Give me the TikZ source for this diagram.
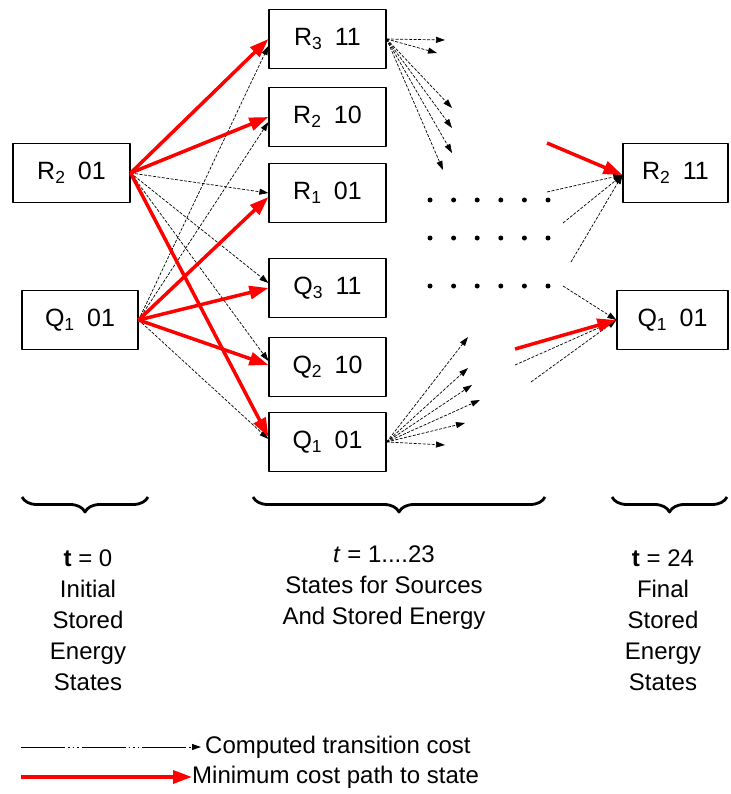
\documentclass[tikz,border=0pt]{standalone}
\usepackage{fontspec}
\setmainfont{Liberation Sans}
\usetikzlibrary{arrows.meta,decorations.pathreplacing}
\newcommand{\statelab}[3]{#1\textsubscript{#2}\hspace{0.5em}#3}

\begin{document}
\begin{tikzpicture}[x=1pt, y=-1pt, font=\fontsize{24}{31}\selectfont, line join=round,
    main/.style = {draw, rectangle, minimum width=117pt, minimum height=59pt, inner sep=0pt, line width=1.2pt, font=\fontsize{25}{30}\selectfont},
    txt/.style = {align=center, inner sep=0pt},
    cost/.style = {-{Triangle[length=9pt, width=6pt]}, line width=0.7pt, dash pattern=on 3pt off 1.5pt},
    best/.style = {-{Triangle[length=19pt, width=13pt]}, line width=3.5pt, red},
    dots/.style = {line width=5pt, line cap=round, dash pattern=on 0pt off 23.6pt},
    curly/.style = {decorate, decoration={brace, mirror, amplitude=15pt}, line width=2.8pt}]
    \useasboundingbox (0,0) rectangle (730,794);
    % states at t = 0
    \node[main] (i0) at (71.5,173) {\statelab{R}{2}{01}};
    \node[main, minimum width=116pt] (i1) at (80,320) {\statelab{Q}{1}{01}};
    % states at t = 1...23
    \node[main] (d0) at (327.5,39) {\statelab{R}{3}{11}};
    \node[main] (d1) at (327.5,117) {\statelab{R}{2}{10}};
    \node[main] (d2) at (327.5,193) {\statelab{R}{1}{01}};
    \node[main] (d3) at (327.5,288) {\statelab{Q}{3}{11}};
    \node[main] (d4) at (327.5,367) {\statelab{Q}{2}{10}};
    \node[main] (d5) at (327.5,442) {\statelab{Q}{1}{01}};
    % states at t = 24
    \node[main, minimum width=105pt] (o0) at (675.5,173) {\statelab{R}{2}{11}};
    \node[main, minimum width=111pt] (o1) at (672.5,320) {\statelab{Q}{1}{01}};
    % transitions t = 0 -> t = 1
    \draw[cost] (i0.east) -- (d2.west);
    \draw[cost] (i0.east) -- ([yshift=5pt]d3.west);
    \draw[cost] (i0.east) -- ([yshift=6pt]d4.west);
    \draw[cost] (i1.east) -- ([yshift=-7pt]d0.west);
    \draw[cost] (i1.east) -- ([yshift=-5pt]d1.west);
    \draw[cost] (i1.east) -- ([yshift=3pt]d5.west);
    \draw[best] (i0.east) -- (d0.west);
    \draw[best] (i0.east) -- (d1.west);
    \draw[best] (i0.east) -- ([yshift=5pt]d5.west);
    \draw[best] (i1.east) -- ([yshift=-4pt]d2.west);
    \draw[best] (i1.east) -- (d3.west);
    \draw[best] (i1.east) -- ([yshift=2pt]d4.west);
    % fans to the next step
    \coordinate (a0) at (445,40);
    \coordinate (a1) at (437,53);
    \coordinate (a2) at (452,108);
    \coordinate (a3) at (452,128);
    \coordinate (a4) at (452,153);
    \coordinate (a5) at (443,170);
    \coordinate (b0) at (468,337);
    \coordinate (b1) at (468,368);
    \coordinate (b2) at (472,385);
    \coordinate (b3) at (480,400);
    \coordinate (b4) at (465,423);
    \coordinate (b5) at (445,445);
    \draw[cost] (d0.east) -- (a0);
    \draw[cost] (d0.east) -- (a1);
    \draw[cost] (d0.east) -- (a2);
    \draw[cost] (d0.east) -- (a3);
    \draw[cost] (d0.east) -- (a4);
    \draw[cost] (d0.east) -- (a5);
    \draw[cost] (d5.east) -- (b0);
    \draw[cost] (d5.east) -- (b1);
    \draw[cost] (d5.east) -- (b2);
    \draw[cost] (d5.east) -- (b3);
    \draw[cost] (d5.east) -- (b4);
    \draw[cost] (d5.east) -- (b5);
    % dots
    \draw[dots] (430,200) -- (550,200);
    \draw[dots] (430,238) -- (550,238);
    \draw[dots] (430,286) -- (550,286);
    % transitions into t = 24
    \coordinate (c0) at (547,143);
    \coordinate (c1) at (547,192);
    \coordinate (c2) at (563,223);
    \coordinate (c3) at (571,262);
    \coordinate (e0) at (515,349);
    \coordinate (e1) at (563,286);
    \coordinate (e2) at (515,365);
    \coordinate (e3) at (531,382);
    \draw[cost] (c1) -- ([yshift=-2pt]o0.west);
    \draw[cost] (c2) -- ([yshift=-2pt]o0.west);
    \draw[cost] (c3) -- ([yshift=-2pt]o0.west);
    \draw[cost] (e1) -- (o1.west);
    \draw[cost] (e2) -- (o1.west);
    \draw[cost] (e3) -- (o1.west);
    \draw[best] (c0) -- ([yshift=-2pt]o0.west);
    \draw[best] (e0) -- (o1.west);
    % braces and labels
    \draw[curly] (22,497) -- (148,497);
    \draw[curly] (253,497) -- (545,497);
    \draw[curly] (612,497) -- (727,497);
    \node[txt] (l0) at (88,620) {\textbf{t} = 0\\Initial\\Stored\\Energy\\States};
    \node[txt] (l1) at (384,588) {\textit{t} = 1....23\\States for Sources\\And Stored Energy};
    \node[txt] (l2) at (663,620) {\textbf{t} = 24\\Final\\Stored\\Energy\\States};
    % legend
    \node[txt, anchor=west] (n0) at (205,747) {Computed transition cost};
    \node[txt, anchor=west] (n1) at (192,777) {Minimum cost path to state};
    \coordinate (k0) at (21,747);
    \coordinate (k1) at (21,777);
    \draw[-{Triangle[length=9pt, width=6pt]}, line width=0.9pt, dash pattern=on 44pt off 3pt on 1.5pt off 3pt on 1.5pt off 3pt on 1.5pt off 3pt] (k0) -- ([xshift=-4pt]n0.west);
    \draw[best] (k1) -- (n1.west);
\end{tikzpicture}
\end{document}
